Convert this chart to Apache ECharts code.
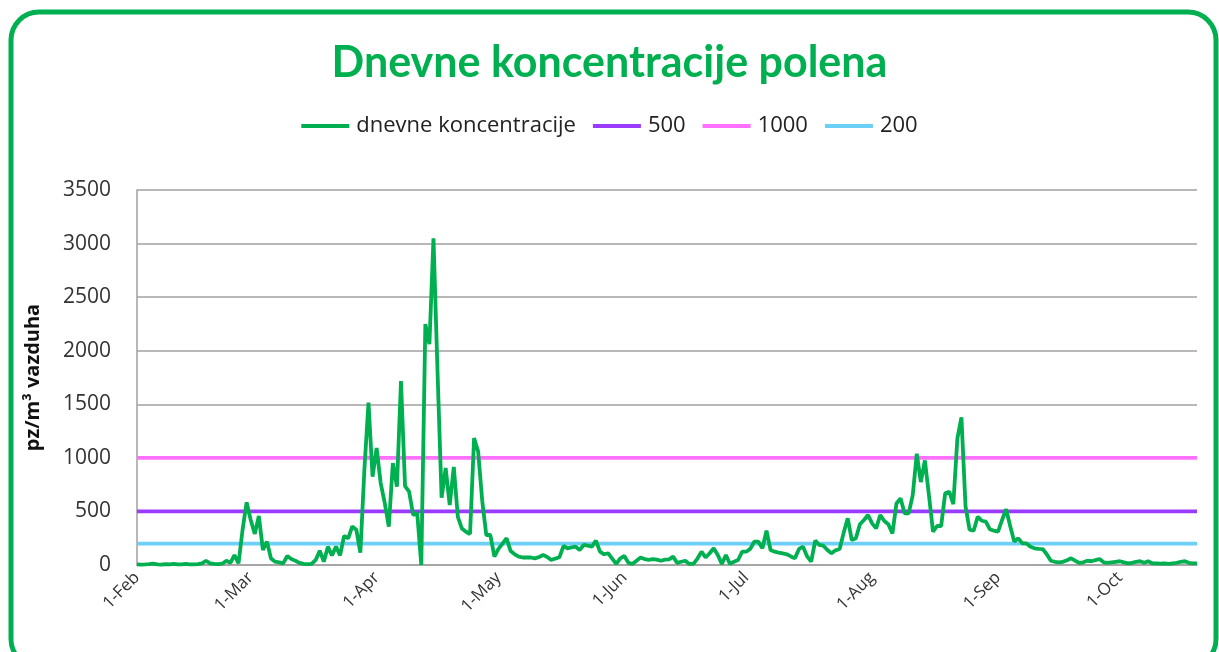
<!DOCTYPE html>
<html>
<head>
<meta charset="utf-8">
<script src="https://cdn.jsdelivr.net/npm/echarts@6/dist/echarts.min.js"></script>
<style>
html,body{margin:0;padding:0;background:#fff;}
#c{width:1219px;height:652px;}
</style>
</head>
<body>
<div id="c"></div>
<script>
// ---- data ----
const startDate = '2010-02-01';
const monthNames = ['Jan','Feb','Mar','Apr','May','Jun','Jul','Aug','Sep','Oct','Nov','Dec'];
const yTicks = [0, 500, 1000, 1500, 2000, 2500, 3000, 3500];
const seriesNames = ['dnevne koncentracije', '500', '1000', '200'];
const thresholds = [500, 1000, 200];
// daily pollen concentration, 1 Feb -> 20 Oct
const daily = [
  5, 3, 5, 8, 12, 6, 4, 8, 5, 10,
  6, 5, 10, 6, 5, 8, 15, 40, 15, 10,
  8, 12, 40, 20, 93, 15, 330, 585, 420, 290,
  457, 140, 218, 60, 31, 25, 15, 84, 55, 40,
  20, 10, 8, 10, 47, 134, 31, 171, 90, 171,
  90, 271, 249, 360, 330, 115, 900, 1515, 824, 1092,
  765, 579, 358, 952, 731, 1717, 737, 684, 467, 482,
  0, 2249, 2062, 3049, 1800, 628, 905, 560, 915, 450,
  340, 310, 289, 1185, 1058, 600, 280, 280, 78, 150,
  200, 250, 130, 100, 78, 70, 72, 70, 62, 75,
  93, 75, 47, 60, 72, 177, 156, 165, 171, 140,
  187, 180, 171, 227, 124, 100, 110, 60, 10, 62,
  84, 20, 10, 40, 70, 55, 47, 55, 50, 40,
  50, 53, 78, 20, 30, 40, 10, 10, 60, 124,
  70, 110, 156, 93, 10, 93, 10, 30, 47, 124,
  124, 150, 218, 218, 156, 320, 140, 124, 115, 109,
  100, 80, 62, 150, 171, 80, 31, 227, 187, 180,
  140, 109, 137, 149, 300, 436, 233, 249, 380, 420,
  467, 389, 342, 467, 410, 380, 295, 574, 622, 482,
  482, 650, 1038, 774, 976, 650, 311, 364, 364, 669,
  684, 568, 1182, 1378, 550, 329, 320, 451, 413, 405,
  333, 320, 311, 420, 520, 364, 218, 249, 202, 202,
  170, 156, 150, 149, 100, 40, 30, 25, 30, 45,
  62, 40, 20, 25, 40, 35, 45, 56, 25, 20,
  25, 30, 35, 25, 15, 20, 30, 35, 20, 35,
  15, 15, 12, 15, 10, 15, 20, 30, 35, 20,
  15, 15
];
const colors = ['#00B050', '#9B3BFF', '#FF70FF', '#6CCFF6'];

// ---- categories (one per day) ----
const categories = [];
(function(){
  const d0 = new Date(startDate + 'T00:00:00Z');
  for (let i = 0; i < daily.length; i++) {
    const d = new Date(d0.getTime() + i * 86400000);
    categories.push(d.toISOString().slice(0, 10));
  }
})();
function fmt(s){
  const m = parseInt(s.slice(5,7),10)-1, d = parseInt(s.slice(8,10),10);
  return d + '-' + monthNames[m];
}

const chart = echarts.init(document.getElementById('c'), null, {renderer:'canvas'});
const FONT = '"Open Sans", Lato, sans-serif';
const series = [{
  name: seriesNames[0], type: 'line', data: daily, showSymbol: false, symbol: 'none',
  lineStyle: {width: 3.8, color: colors[0]}, itemStyle: {color: colors[0]}, z: 5
}];
thresholds.forEach((t, i) => {
  series.push({
    name: seriesNames[i+1], type: 'line', symbol: 'none', showSymbol: false,
    data: [[categories[0], t], [categories[categories.length-1], t]],
    lineStyle: {width: 3.8, color: colors[i+1]}, itemStyle: {color: colors[i+1]}, z: 3
  });
});

chart.setOption({
  animation: false,
  color: colors,
  graphic: [{
    type: 'rect',
    shape: {x: 11, y: 12, width: 1205, height: 655, r: 28},
    style: {fill: 'none', stroke: '#00B050', lineWidth: 5},
    silent: true
  }],
  title: {
    text: 'Dnevne koncentracije polena', left: 'center', top: 42, padding: 0,
    textStyle: {fontFamily: 'Lato, sans-serif', fontWeight: 'bold', fontSize: 43, color: '#00B050'}
  },
  legend: {
    top: 110, left: 'center', itemWidth: 48, itemHeight: 4, itemGap: 17, icon: 'rect',
    textStyle: {fontFamily: FONT, fontSize: 22, color: '#222', padding: [0,0,0,2]},
    data: seriesNames
  },
  grid: {left: 137, right: 22, top: 190, bottom: 87, containLabel: false},
  xAxis: {
    type: 'category', data: categories, boundaryGap: false,
    axisLine: {lineStyle: {color: '#A0A0A0', width: 1.5}},
    axisTick: {show: false},
    axisLabel: {
      rotate: 45, fontFamily: FONT, fontSize: 17, color: '#333', margin: 10,
      interval: function(idx, val){ return val.slice(8,10) === '01'; },
      formatter: function(v){ return fmt(v); }
    },
    splitLine: {show: false}
  },
  yAxis: {
    type: 'value', min: yTicks[0], max: yTicks[yTicks.length-1], interval: 500,
    name: 'pz/m³ vazduha', nameLocation: 'middle', nameGap: 94, nameRotate: 90,
    nameTextStyle: {fontFamily: FONT, fontWeight: 'bold', fontSize: 20, color: '#111'},
    axisLine: {show: true, lineStyle: {color: '#A0A0A0', width: 1.5}},
    axisTick: {show: false},
    axisLabel: {fontFamily: FONT, fontSize: 21, color: '#333', margin: 26,
      formatter: function(v){ return String(v); }},
    splitLine: {lineStyle: {color: '#A0A0A0', width: 1.5}}
  },
  series: series
});
</script>
</body>
</html>
